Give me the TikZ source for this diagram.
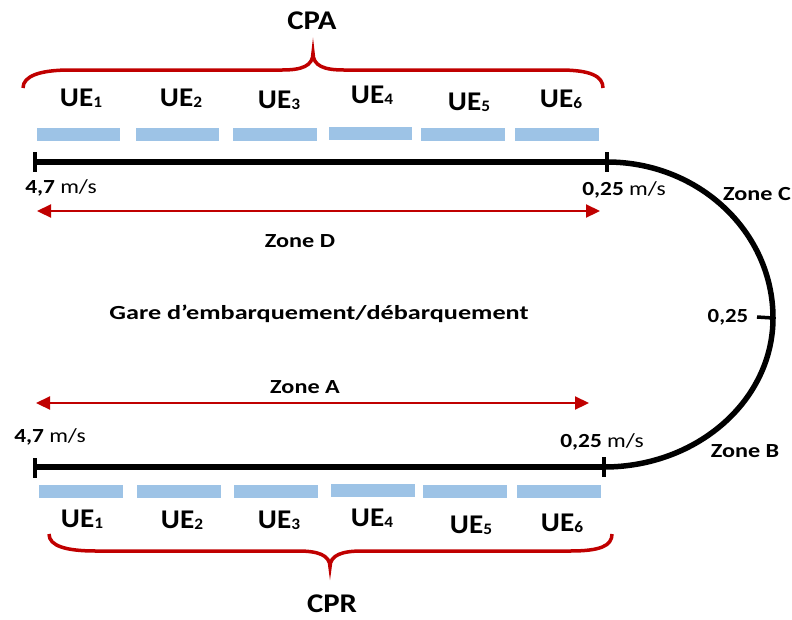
\documentclass[tikz,border=0pt]{standalone}
\usepackage{fontspec}
\usepackage{graphicx}
\setmainfont{Carlito}
\usetikzlibrary{arrows.meta}
\definecolor{bracered}{HTML}{C00000}
\definecolor{padblue}{HTML}{9DC3E6}

% horizontally widened text
\newcommand{\wide}[2]{\scalebox{#1}[1]{#2}}
% equipment label with a small lowered index
\newcommand{\uelab}[1]{\wide{1.08}{UE\raisebox{-0.06em}{\fontsize{16}{16}\selectfont #1}}}

\begin{document}
\begin{tikzpicture}[x=1pt,y=-1pt,
  big/.style={font=\bfseries\fontsize{27}{27}\selectfont, inner sep=0pt, anchor=base},
  lab/.style={font=\bfseries\fontsize{20}{20}\selectfont, inner sep=0pt, anchor=base},
  speed/.style={font=\fontsize{20}{20}\selectfont, inner sep=0pt, anchor=base},
  track/.style={line width=5.5pt, black},
  tick/.style={line width=3.5pt, black},
  pad/.style={fill=padblue, draw=none},
  curly/.style={line width=3.5pt, bracered},
  zone/.style={line width=2.2pt, bracered, {Triangle[length=14pt,width=13pt]}-{Triangle[length=14pt,width=13pt]}}
]
\useasboundingbox (0,0) rectangle (792,619);

% ---- upper platform (CPA) ----
\node[big] (cpa) at (312,29) {\wide{1.14}{CPA}};
\draw[curly] (23,88) .. controls (23,76) and (40,70) .. (70,70) -- (282,70)
  .. controls (302,70) and (313,66) .. (313,53)
  .. controls (313,66) and (324,70) .. (344,70) -- (560,70)
  .. controls (590,70) and (603,76) .. (603,88);

\node[big] (ua1) at (81,106) {\uelab{1}};
\node[big] (ua2) at (181,106) {\uelab{2}};
\node[big] (ua3) at (279,108) {\uelab{3}};
\node[big] (ua4) at (372,103) {\uelab{4}};
\node[big] (ua5) at (469,110) {\uelab{5}};
\node[big] (ua6) at (561,107) {\uelab{6}};

\fill[pad] (37,128) rectangle (120,141);
\fill[pad] (136,128) rectangle (219,141);
\fill[pad] (233,128) rectangle (317,141);
\fill[pad] (329,127) rectangle (412,140);
\fill[pad] (421,128) rectangle (505,141);
\fill[pad] (515,128) rectangle (599,141);

% ---- track ----
\coordinate (tl) at (35,162);
\coordinate (tr) at (607,162);
\coordinate (bl) at (35,467);
\coordinate (br) at (604,467);
\coordinate (mid) at (773,318);

\draw[track] (tl) -- (tr);
\draw[track] (bl) -- (br);
\draw[track] (tr) arc[start angle=-90, end angle=0, x radius=166, y radius=156]
  arc[start angle=0, end angle=90, x radius=169, y radius=149];

\draw[tick] (35,152) -- (35,172);
\draw[tick] (607,152) -- (607,172);
\draw[tick] (35,458) -- (35,478);
\draw[tick] (604,457) -- (604,477);
\draw[tick] (757,317) -- (mid);

\node[speed] (va) at (61,193) {\wide{1.17}{\textbf{4,7} m/s}};
\node[speed] (vb) at (624,195) {\wide{1.17}{\textbf{0,25} m/s}};
\node[lab] (zc) at (757,200) {\wide{1.21}{Zone C}};
\node[lab] (vmid) at (728,322) {\wide{1.14}{0,25}};
\node[lab] (zb) at (745,457) {\wide{1.21}{Zone B}};
\node[speed] (vc) at (50,442) {\wide{1.17}{\textbf{4,7} m/s}};
\node[speed] (vd) at (602,447) {\wide{1.17}{\textbf{0,25} m/s}};

% ---- zones ----
\coordinate (dl) at (37,211);
\coordinate (dr) at (600,211);
\draw[zone] (dl) -- (dr);
\node[lab] (zd) at (300,247) {\wide{1.21}{Zone D}};

\node[lab] (gare) at (319,319) {\wide{1.31}{Gare d’embarquement/débarquement}};

\node[lab] (za) at (305,393) {\wide{1.21}{Zone A}};
\coordinate (al) at (36,403);
\coordinate (ar) at (589,403);
\draw[zone] (al) -- (ar);

% ---- lower platform (CPR) ----
\fill[pad] (39,485) rectangle (123,498);
\fill[pad] (137,485) rectangle (221,498);
\fill[pad] (234,485) rectangle (318,498);
\fill[pad] (331,484) rectangle (415,497);
\fill[pad] (423,485) rectangle (507,498);
\fill[pad] (517,485) rectangle (601,498);

\node[big] (ub1) at (82,527) {\uelab{1}};
\node[big] (ub2) at (182,528) {\uelab{2}};
\node[big] (ub3) at (279,528) {\uelab{3}};
\node[big] (ub4) at (372,526) {\uelab{4}};
\node[big] (ub5) at (471,533) {\uelab{5}};
\node[big] (ub6) at (562,531) {\uelab{6}};

\draw[curly] (49,534) .. controls (49,546) and (66,551) .. (96,551) -- (298,551)
  .. controls (318,551) and (330,555) .. (330,567)
  .. controls (330,555) and (342,551) .. (362,551) -- (570,551)
  .. controls (600,551) and (612,546) .. (612,534);

\node[big] (cpr) at (332,612) {\wide{1.14}{CPR}};
\end{tikzpicture}
\end{document}
